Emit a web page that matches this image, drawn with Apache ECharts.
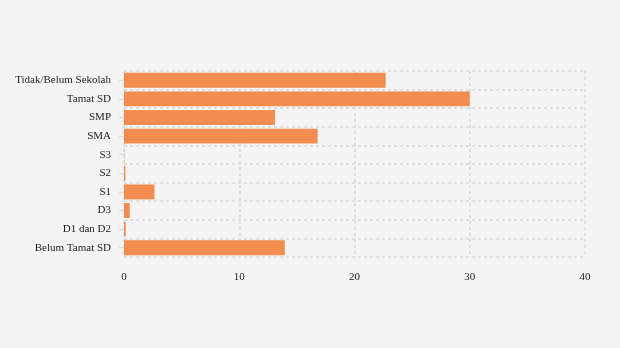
<!DOCTYPE html>
<html><head><meta charset="utf-8">
<script src="https://cdn.jsdelivr.net/npm/echarts@6/dist/echarts.min.js"></script>
<style>html,body{margin:0;padding:0;background:#f4f4f4}#c{width:620px;height:348px}</style>
</head><body><div id="c"></div>
<script>
const categories = ["Tidak/Belum Sekolah","Tamat SD","SMP","SMA","S3","S2","S1","D3","D1 dan D2","Belum Tamat SD"];
const values = [22.7, 30.0, 13.1, 16.8, 0.02, 0.12, 2.65, 0.5, 0.15, 13.95];
const xTicks = {min: 0, max: 40, interval: 10};

const chart = echarts.init(document.getElementById('c'), null, {renderer: 'canvas'});
const split = {show: true, lineStyle: {color: '#dedede', width: 2, type: [3, 3]}};
chart.setOption({
  backgroundColor: '#f4f4f4',
  animation: false,
  textStyle: {fontFamily: 'Liberation Serif'},
  grid: {left: 124, right: 35, top: 71, bottom: 91},
  xAxis: {
    type: 'value', min: xTicks.min, max: xTicks.max, interval: xTicks.interval,
    axisLine: {show: false}, axisTick: {show: false},
    axisLabel: {color: '#222', fontSize: 11, margin: 15, fontFamily: 'Liberation Serif'},
    splitLine: split
  },
  yAxis: {
    type: 'category', inverse: true, data: categories,
    axisLine: {show: false},
    axisTick: {show: true, alignWithLabel: true, length: 5, lineStyle: {color: '#dadada'}},
    axisLabel: {color: '#222', fontSize: 11, margin: 13, fontFamily: 'Liberation Serif'},
    splitLine: split
  },
  series: [{
    type: 'bar', data: values, barCategoryGap: '20%',
    itemStyle: {color: '#f38c4f'}
  }]
});
</script></body></html>
